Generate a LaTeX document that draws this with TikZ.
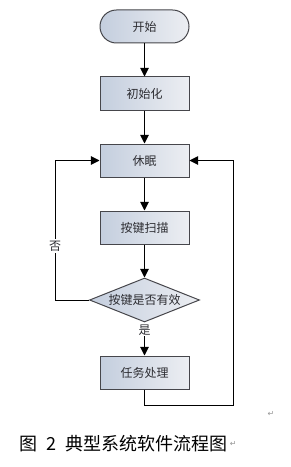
\documentclass[tikz,border=0pt]{standalone}
\usepackage{fontspec}
\usepackage{tikz}
\usetikzlibrary{shapes.geometric, arrows.meta, positioning, calc}
\newfontfamily\cjk{Noto Sans CJK SC}
\newfontfamily\symfont{DejaVu Sans}
\definecolor{boxline}{RGB}{70,70,75}
\definecolor{boxblue}{RGB}{196,206,222}
\definecolor{boxlight}{RGB}{236,238,242}
\definecolor{boxtext}{RGB}{45,45,50}
\definecolor{markgray}{RGB}{150,150,150}
\tikzset{
  procbox/.style={rectangle, draw=boxline, left color=boxblue, right color=boxlight,
    minimum width=66.75pt, minimum height=24.75pt, inner sep=0pt, text=boxtext,
    font=\cjk\fontsize{9}{11}\selectfont, line width=0.75pt},
  termbox/.style={procbox, rounded corners=12.3pt},
  decbox/.style={diamond, draw=boxline, left color=boxblue, right color=boxlight,
    minimum width=82.5pt, minimum height=33pt, aspect=2.5, inner sep=0pt, text=boxtext,
    font=\cjk\fontsize{9}{11}\selectfont, line width=0.75pt},
  arrow/.style={-{Triangle[length=6.5pt, width=6.5pt]}, line width=0.75pt, color=black},
  line/.style={line width=0.75pt, color=black},
  edgelabel/.style={fill=white, inner sep=1pt, text=boxtext, font=\cjk\fontsize{9}{11}\selectfont},
  retmark/.style={font=\symfont\fontsize{6}{7}\selectfont, color=markgray, inner sep=0pt}
}
\begin{document}
\begin{tikzpicture}[x=0.75pt, y=-0.75pt, node distance=24.75pt]
  \useasboundingbox (0,0) rectangle (291,467);

  % Main chain
  \node[termbox] (start) at (144.5,26.5) {开始};
  \node[procbox, below=of start] (init) {初始化};
  \node[procbox, below=of init] (sleep) {休眠};
  \node[procbox, below=of sleep] (scan) {按键扫描};
  \node[decbox, below=of scan] (check) {按键是否有效};
  \node[procbox, below=of check] (task) {任务处理};

  \draw[arrow] (start) -- (init);
  \draw[arrow] (init) -- (sleep);
  \draw[arrow] (sleep) -- (scan);
  \draw[arrow] (scan) -- (check);
  \draw[arrow] (check) -- node[edgelabel, pos=0.22] (yes) {是} (task);

  % Loops back to sleep
  \coordinate (lft) at (55,300);
  \draw[arrow] (check.west) -- (lft) |- (sleep.west);
  \node[edgelabel] (no) at (55,246) {否};

  \coordinate (rgt) at (233,405);
  \draw[arrow] (task.south) |- (rgt) |- (sleep.east);

  % Caption
  \node[retmark] (mark1) at (271,414) {↵};
  \node[anchor=west, inner sep=0pt, font=\cjk\fontsize{13.5}{15}\selectfont] (caption) at (19,444)
    {图\hspace{7pt}2\hspace{7pt}典型系统软件流程图};
  \node[retmark, right=1pt of caption.east] (mark2) {↵};
\end{tikzpicture}
\end{document}
